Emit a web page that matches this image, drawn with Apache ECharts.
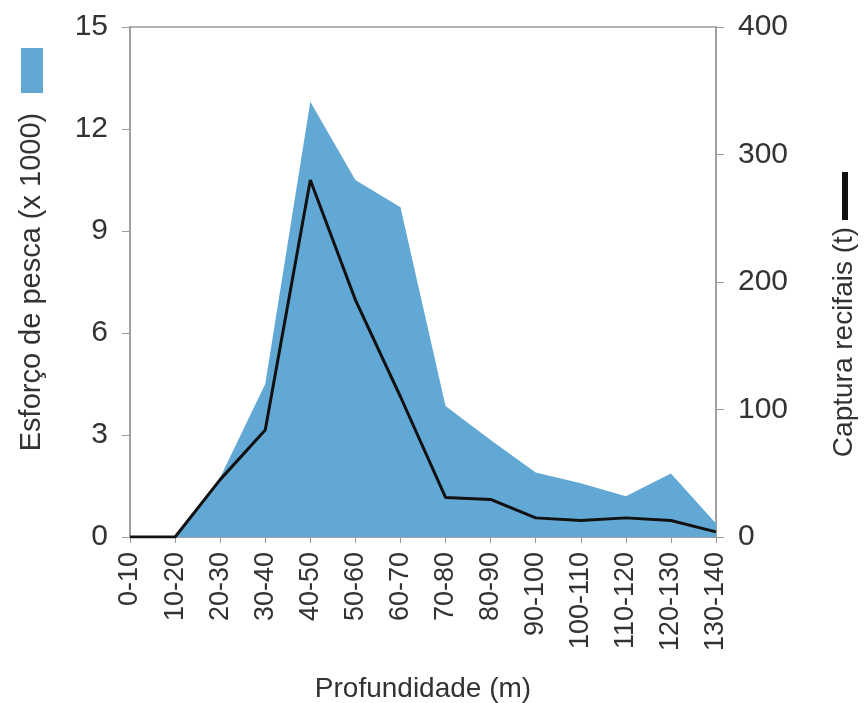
<!DOCTYPE html>
<html>
<head>
<meta charset="utf-8">
<script src="https://cdn.jsdelivr.net/npm/echarts@6/dist/echarts.min.js"></script>
<style>
html,body{margin:0;padding:0;background:#fff;}
#chart{width:866px;height:703px;}
</style>
</head>
<body>
<div id="chart"></div>
<script>
const categories = ['0-10','10-20','20-30','30-40','40-50','50-60','60-70','70-80','80-90','90-100','100-110','110-120','120-130','130-140'];
const esforco = [0, 0, 1.75, 4.5, 12.8, 10.5, 9.7, 3.85, 2.85, 1.9, 1.58, 1.2, 1.87, 0.4];
const captura = [0, 0, 45, 84, 280, 186, 110, 31, 29.5, 15, 13, 15, 13, 4];
const leftTicks = {min: 0, max: 15, interval: 3};
const rightTicks = {min: 0, max: 400, interval: 100};
const nameEsforco = 'Esforço de pesca (x 1000)';
const nameCaptura = 'Captura recifais (t)';
const nameX = 'Profundidade (m)';

const font = 'Liberation Sans, Arial, sans-serif';
const txt = '#333';
const axisGray = '#9a9a9a';

const chart = echarts.init(document.getElementById('chart'), null, {renderer: 'canvas'});
chart.setOption({
  animation: false,
  backgroundColor: '#fff',
  textStyle: {fontFamily: font},
  legend: [
    {
      data: [{name: nameEsforco, icon: 'rect'}],
      left: 21, top: 48, itemWidth: 22, itemHeight: 45, itemGap: 0,
      formatter: () => '', selectedMode: false, padding: 0
    },
    {
      data: [{name: nameCaptura, icon: 'rect'}],
      left: 842, top: 172, itemWidth: 6, itemHeight: 48, itemGap: 0,
      formatter: () => '', selectedMode: false, padding: 0
    }
  ],
  grid: {left: 130, right: 150, top: 27, bottom: 166, show: true, borderColor: axisGray, borderWidth: 1.5, backgroundColor: 'transparent', containLabel: false, outerBoundsMode: 'none'},
  xAxis: {
    type: 'category',
    data: categories,
    boundaryGap: false,
    name: nameX,
    nameLocation: 'middle',
    nameGap: 138,
    nameTextStyle: {fontSize: 28, color: txt, fontFamily: font},
    axisLine: {show: true, lineStyle: {color: axisGray, width: 1.5}},
    axisTick: {show: true, alignWithLabel: true, length: 6, lineStyle: {color: axisGray}},
    axisLabel: {rotate: 90, fontSize: 27, color: txt, margin: 15, interval: 0, fontFamily: font},
    splitLine: {show: false}
  },
  yAxis: [
    {
      type: 'value',
      position: 'left',
      min: leftTicks.min, max: leftTicks.max, interval: leftTicks.interval,
      name: nameEsforco,
      nameLocation: 'middle',
      nameRotate: 90,
      nameGap: 84,
      nameTextStyle: {fontSize: 29, color: txt, fontFamily: font},
      axisLine: {show: true, lineStyle: {color: axisGray, width: 1.5}},
      axisTick: {show: true, length: 8, lineStyle: {color: axisGray}},
      axisLabel: {fontSize: 30, color: txt, margin: 22, fontFamily: font},
      splitLine: {show: false}
    },
    {
      type: 'value',
      position: 'right',
      min: rightTicks.min, max: rightTicks.max, interval: rightTicks.interval,
      name: nameCaptura,
      nameLocation: 'middle',
      nameRotate: 90,
      nameGap: 114,
      nameTextStyle: {fontSize: 28, color: txt, fontFamily: font, padding: [0, 120, 0, 0]},
      axisLine: {show: true, lineStyle: {color: axisGray, width: 1.5}},
      axisTick: {show: true, length: 8, lineStyle: {color: axisGray}},
      axisLabel: {fontSize: 30, color: txt, margin: 22, fontFamily: font},
      splitLine: {show: false}
    }
  ],
  series: [
    {
      name: nameEsforco,
      type: 'line',
      yAxisIndex: 0,
      data: esforco,
      symbol: 'none',
      color: '#62a8d4',
      lineStyle: {width: 0, color: '#62a8d4'},
      areaStyle: {color: '#62a8d4', opacity: 1},
      z: 1
    },
    {
      name: nameCaptura,
      type: 'line',
      yAxisIndex: 1,
      data: captura,
      symbol: 'none',
      color: '#111',
      lineStyle: {width: 3, color: '#111'},
      z: 3
    }
  ]
});
</script>
</body>
</html>
